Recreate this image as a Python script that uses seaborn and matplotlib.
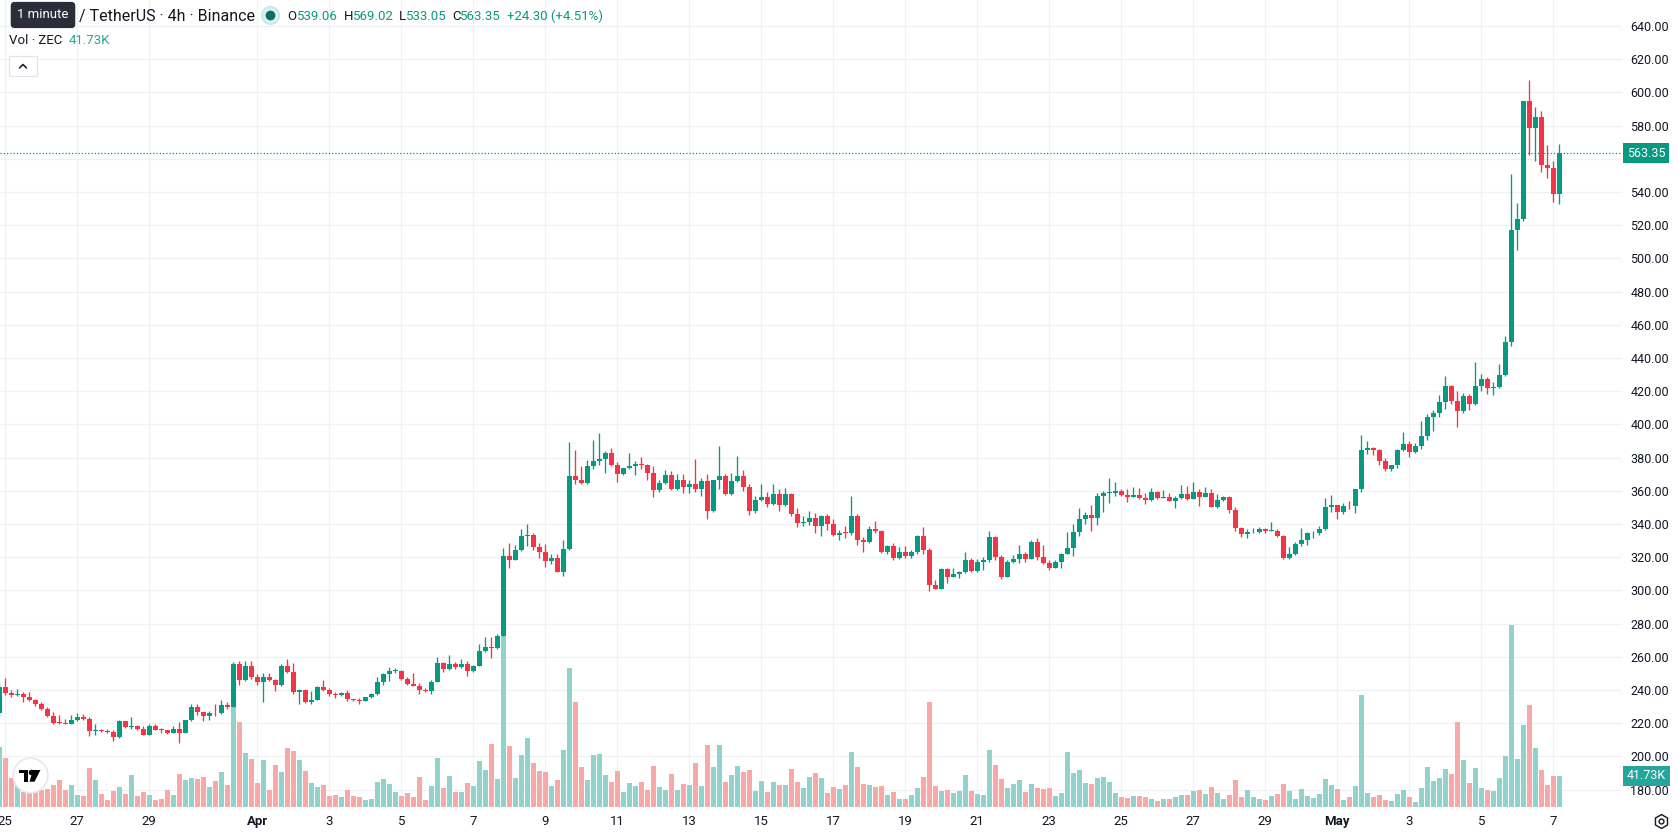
import numpy as np
import pandas as pd
import seaborn as sns
import matplotlib.pyplot as plt
import matplotlib.transforms as mtransforms
from matplotlib.lines import Line2D
from matplotlib.patches import Rectangle, Polygon

sns.set_theme(style='white')
plt.rcParams['font.family'] = ['Roboto', 'DejaVu Sans']

W, H = 1678, 835

# ZEC/USDT 4h candles, bar index 0 = Mar 25 00:00
bar_idx = list(range(-1, 260))
close = [242.0,
         238.0, 236.8, 237.8, 235.6, 234.0, 231.3, 228.5, 224.4, 220.2, 220.0,
         219.6, 222.2, 223.8, 222.4, 215.4, 216.0, 215.2, 215.0, 211.7, 221.2,
         217.6, 218.6, 216.6, 213.1, 218.2, 216.2, 216.0, 214.2, 216.6, 214.2,
         221.8, 229.9, 226.5, 224.2, 226.2, 225.9, 230.7, 229.9, 255.6, 245.9,
         254.7, 247.9, 244.6, 248.1, 245.9, 242.8, 254.7, 251.1, 238.6, 240.2,
         232.5, 234.1, 242.0, 240.2, 237.4, 237.2, 238.4, 234.4, 233.8, 233.4,
         235.6, 237.4, 245.1, 249.5, 251.3, 251.5, 246.7, 243.8, 242.6, 240.2,
         239.4, 245.1, 256.0, 252.7, 255.4, 253.7, 255.4, 251.3, 254.7, 263.2,
         265.7, 265.5, 272.7, 320.8, 318.6, 324.2, 332.9, 333.5, 325.9, 323.4,
         318.0, 319.4, 311.3, 325.1, 368.7, 366.5, 364.6, 374.7, 377.8, 379.0,
         382.8, 375.4, 370.1, 373.5, 374.7, 376.0, 375.8, 370.7, 360.6, 364.4,
         369.3, 360.8, 366.7, 362.2, 363.8, 361.0, 365.9, 347.7, 366.3, 368.7,
         357.8, 365.7, 368.7, 362.2, 347.7, 354.7, 356.2, 351.9, 357.8, 351.5,
         358.2, 345.9, 340.6, 341.4, 343.6, 338.6, 345.1, 339.8, 333.1, 334.7,
         334.5, 345.1, 330.1, 328.9, 337.2, 335.6, 323.4, 326.5, 319.4, 323.0,
         320.8, 323.2, 332.9, 324.6, 303.2, 301.0, 313.1, 308.3, 310.1, 311.1,
         318.4, 311.7, 317.2, 318.6, 332.3, 320.4, 308.3, 317.2, 319.2, 322.0,
         319.2, 329.3, 320.4, 316.4, 313.7, 317.2, 322.0, 325.5, 335.0, 342.8,
         345.3, 343.6, 356.8, 358.6, 358.8, 359.8, 357.4, 356.4, 357.4, 355.6,
         354.5, 359.2, 355.6, 356.0, 354.0, 355.6, 358.0, 355.0, 359.2, 356.4,
         358.6, 350.3, 354.3, 356.4, 348.5, 337.6, 334.0, 335.0, 335.2, 336.8,
         335.8, 336.0, 332.7, 319.4, 322.2, 327.7, 330.1, 334.3, 334.5, 337.2,
         350.1, 351.3, 347.3, 350.8, 350.6, 360.8, 384.5, 385.9, 384.5, 377.7,
         373.3, 375.4, 384.5, 388.3, 383.6, 386.8, 393.0, 404.4, 406.7, 413.5,
         423.1, 414.3, 407.9, 417.3, 412.0, 423.1, 427.5, 422.0, 422.5, 429.9,
         449.5, 517.4, 523.6, 594.7, 578.3, 585.1, 556.4, 554.6, 539.06, 563.35]
high = [245.0,
        247.5, 240.0, 240.6, 239.0, 238.8, 234.5, 232.5, 229.9, 226.5, 224.8,
        222.4, 225.0, 226.3, 225.5, 223.5, 219.6, 216.4, 216.4, 216.0, 222.0,
        221.6, 224.0, 219.0, 218.6, 219.6, 219.4, 217.4, 216.2, 218.2, 220.8,
        222.2, 231.3, 231.7, 226.8, 227.5, 231.7, 234.0, 232.7, 256.8, 257.6,
        257.6, 257.2, 249.5, 250.3, 250.5, 246.5, 255.6, 258.4, 256.0, 240.6,
        240.4, 239.6, 242.4, 246.3, 241.0, 238.8, 239.0, 240.0, 234.8, 235.4,
        236.0, 238.4, 248.1, 250.5, 254.1, 253.3, 252.0, 248.1, 250.1, 244.0,
        241.5, 246.0, 259.6, 256.6, 260.8, 256.6, 258.4, 257.6, 255.2, 267.5,
        272.1, 272.1, 273.9, 325.5, 328.7, 327.5, 337.0, 340.2, 334.5, 328.3,
        327.9, 322.0, 321.8, 330.3, 389.3, 384.8, 374.7, 378.4, 390.5, 394.7,
        383.8, 385.7, 377.6, 374.0, 382.8, 377.8, 380.4, 376.2, 374.7, 366.3,
        372.3, 371.7, 370.3, 369.9, 366.3, 379.4, 367.9, 369.9, 366.7, 386.9,
        369.9, 370.5, 380.8, 372.3, 363.8, 356.6, 363.8, 359.0, 363.8, 361.2,
        361.6, 358.8, 349.7, 344.6, 348.1, 346.7, 345.5, 346.1, 343.0, 336.2,
        338.8, 356.6, 346.1, 332.3, 338.8, 342.0, 336.4, 327.1, 328.3, 326.3,
        326.7, 324.6, 333.3, 338.4, 325.5, 306.1, 313.7, 313.7, 313.7, 311.7,
        323.2, 319.8, 319.0, 320.2, 336.0, 332.7, 321.2, 318.2, 321.4, 327.5,
        323.0, 330.3, 331.5, 327.5, 318.6, 318.2, 322.4, 335.4, 339.8, 349.5,
        347.3, 351.3, 358.8, 359.6, 367.5, 365.3, 361.0, 361.2, 362.2, 361.6,
        358.6, 361.6, 360.0, 360.2, 358.6, 357.0, 363.2, 362.8, 365.3, 360.8,
        362.0, 361.2, 358.0, 357.0, 356.6, 350.1, 338.0, 336.8, 337.4, 338.0,
        337.6, 341.0, 337.0, 333.1, 325.9, 328.9, 337.4, 335.4, 336.0, 339.0,
        355.6, 357.4, 351.5, 352.9, 353.7, 361.0, 393.9, 390.0, 386.2, 385.0,
        380.0, 375.8, 385.0, 395.6, 390.3, 388.5, 402.0, 406.4, 408.8, 417.6,
        429.3, 423.5, 420.0, 419.0, 418.2, 437.8, 430.4, 428.4, 425.4, 436.6,
        453.0, 550.8, 533.2, 594.9, 607.6, 591.2, 588.6, 568.1, 558.7, 569.02]
low = [224.0,
       237.0, 236.0, 236.5, 232.5, 233.3, 230.5, 227.9, 223.6, 219.8, 219.8,
       219.4, 219.4, 221.4, 222.0, 212.5, 213.1, 214.8, 214.0, 209.5, 211.3,
       217.0, 216.8, 216.2, 212.6, 212.7, 215.8, 213.9, 213.3, 214.0, 208.3,
       214.0, 221.5, 224.8, 221.6, 222.2, 224.4, 225.6, 228.5, 229.5, 243.0,
       245.5, 246.9, 243.0, 232.9, 245.4, 239.4, 242.4, 250.2, 237.6, 231.5,
       232.0, 231.5, 233.8, 239.4, 236.4, 235.0, 236.6, 233.6, 233.6, 231.6,
       233.2, 235.4, 236.8, 243.0, 245.5, 250.5, 246.1, 243.2, 242.2, 237.6,
       238.6, 237.6, 244.6, 250.7, 252.2, 252.9, 253.5, 248.7, 251.0, 254.3,
       262.8, 259.2, 265.0, 272.3, 313.3, 318.2, 323.6, 326.5, 324.3, 319.4,
       314.3, 316.2, 310.8, 308.9, 324.6, 364.2, 364.0, 364.2, 373.2, 375.5,
       370.7, 374.8, 365.3, 369.6, 373.0, 369.5, 373.0, 366.3, 356.2, 359.2,
       363.8, 360.4, 360.4, 358.6, 358.6, 359.2, 356.8, 343.2, 347.3, 360.8,
       357.2, 357.2, 365.3, 359.8, 345.7, 346.5, 354.0, 350.0, 351.3, 348.0,
       350.7, 344.7, 338.0, 338.6, 339.6, 334.3, 332.9, 336.5, 332.7, 330.1,
       331.3, 333.1, 327.1, 323.4, 328.3, 334.5, 322.8, 321.8, 318.6, 319.2,
       319.8, 319.8, 322.0, 322.2, 299.8, 300.6, 300.6, 304.6, 307.8, 307.4,
       310.3, 311.2, 311.2, 312.5, 317.4, 318.2, 306.9, 308.0, 316.8, 316.8,
       317.2, 318.8, 318.6, 316.0, 312.1, 313.3, 313.7, 321.8, 320.8, 333.0,
       340.0, 335.8, 339.6, 347.5, 352.9, 357.0, 356.8, 353.3, 356.0, 355.0,
       352.1, 354.0, 355.0, 355.6, 353.6, 349.7, 355.0, 354.6, 354.8, 350.9,
       356.0, 350.0, 349.9, 354.0, 346.7, 335.8, 332.1, 331.5, 334.6, 334.4,
       334.5, 335.6, 332.3, 318.8, 318.8, 321.6, 327.0, 327.3, 331.5, 333.5,
       336.2, 347.3, 343.0, 346.1, 348.8, 346.9, 359.2, 382.1, 381.3, 375.7,
       372.1, 371.8, 373.8, 384.0, 380.1, 383.0, 385.2, 390.4, 395.9, 404.7,
       409.4, 412.0, 398.2, 407.0, 408.8, 411.4, 420.2, 418.4, 417.5, 422.0,
       429.0, 447.4, 505.1, 522.6, 562.5, 558.7, 552.0, 548.5, 533.8, 533.05]
# volume in thousands of ZEC
volume = [80.4,
          66.0, 38.6, 31.0, 20.0, 22.0, 24.0, 22.5, 23.8, 29.2, 35.9,
          22.5, 29.2, 15.7, 14.4, 52.1, 35.9, 17.1, 9.0, 21.1, 26.5,
          17.1, 42.7, 14.4, 19.8, 15.7, 9.0, 10.3, 22.5, 15.7, 44.0,
          35.9, 38.6, 37.3, 40.0, 26.5, 34.6, 46.7, 29.2, 135.6, 114.0,
          72.3, 64.2, 31.9, 62.9, 22.5, 56.1, 46.7, 79.0, 75.0, 62.9,
          48.0, 31.9, 26.5, 29.2, 14.4, 15.7, 13.0, 22.5, 14.4, 13.0,
          9.0, 10.3, 33.2, 37.3, 30.5, 19.8, 14.4, 18.4, 13.0, 40.0,
          9.0, 27.8, 65.6, 25.1, 41.3, 19.8, 19.8, 31.9, 27.8, 61.5,
          49.4, 84.4, 37.3, 231.2, 81.7, 38.6, 69.6, 92.5, 58.8, 48.0,
          46.7, 27.8, 35.9, 76.3, 186.8, 141.0, 53.4, 35.9, 69.6, 70.9,
          42.7, 33.2, 48.0, 19.8, 31.9, 27.8, 33.2, 22.5, 54.8, 26.5,
          22.5, 44.0, 22.5, 30.5, 29.2, 58.8, 27.8, 83.1, 53.4, 83.1,
          33.2, 42.7, 54.8, 46.7, 49.4, 21.1, 34.6, 19.8, 33.2, 29.2,
          29.2, 50.7, 33.2, 25.1, 40.0, 45.3, 38.6, 18.4, 26.5, 23.8,
          29.2, 73.6, 53.4, 30.5, 29.2, 26.5, 27.8, 15.7, 19.8, 10.3,
          10.3, 15.7, 25.1, 40.0, 141.0, 27.8, 21.1, 22.5, 18.4, 21.1,
          42.7, 21.1, 17.1, 15.7, 76.3, 56.1, 37.3, 25.1, 30.5, 35.9,
          19.8, 30.5, 25.1, 23.8, 25.1, 14.4, 18.4, 73.6, 45.3, 49.4,
          31.9, 30.5, 38.6, 40.0, 33.2, 18.4, 13.0, 11.7, 14.4, 14.4,
          13.0, 10.3, 7.6, 10.3, 10.3, 13.0, 15.7, 15.7, 21.1, 22.5,
          17.1, 26.5, 18.4, 10.3, 15.7, 35.9, 13.0, 22.5, 13.0, 10.3,
          9.0, 14.4, 17.1, 30.5, 21.1, 10.3, 23.8, 14.4, 11.7, 17.1,
          37.3, 29.2, 23.8, 9.8, 13.1, 28.7, 150.2, 18.3, 13.1, 15.7,
          9.8, 8.5, 17.0, 23.5, 13.1, 7.2, 26.1, 54.2, 34.6, 38.5,
          51.6, 43.8, 114.9, 62.7, 32.7, 52.9, 26.1, 23.5, 22.2, 38.5,
          69.2, 245.5, 64.0, 111.0, 137.8, 79.0, 50.3, 30.0, 41.1, 41.73]
first_open = 226.0

price_ticks = list(range(180, 641, 20))
date_ticks = [0, 12, 24, 42, 54, 66, 78, 90, 102, 114, 126, 138, 150, 162, 174,
              186, 198, 210, 222, 234, 246, 258]
date_labels = ['25', '27', '29', 'Apr', '3', '5', '7', '9', '11', '13', '15', '17',
               '19', '21', '23', '25', '27', '29', 'May', '3', '5', '7']

UP, DN = '#089981', '#f23645'
VOL_UP, VOL_DN = '#92d2cc', '#f7a9a7'
GRID = '#eff1f4'
TXT = '#131722'

df = pd.DataFrame({'k': bar_idx, 'close': close, 'high': high, 'low': low, 'vol': volume})
df['open'] = [first_open] + close[:-1]
df['dir'] = np.where(df['close'] >= df['open'], 'up', 'down')
colors = np.where(df['dir'] == 'up', UP, DN)

fig = plt.figure(figsize=(W / 100, H / 100), dpi=100)
rect = [0, (H - 807) / H, 1622 / W, 807 / H]
axv = fig.add_axes(rect)
axp = fig.add_axes(rect, sharex=axv)
axv.set_zorder(1)
axp.set_zorder(2)
axp.patch.set_visible(False)
axv.set_facecolor('white')

# volume bars
sns.barplot(data=df, x='k', y='vol', hue='dir', palette={'up': VOL_UP, 'down': VOL_DN},
            native_scale=True, width=0.78, dodge=False, errorbar=None, saturation=1,
            legend=False, linewidth=0, ax=axv)
axv.set_ylim(0, 807 * 1.346)

# grid under the volume
grid_tf = mtransforms.blended_transform_factory(axv.transAxes, axp.transData)
for p in price_ticks:
    axv.plot([0, 1], [p, p], transform=grid_tf, color=GRID, lw=0.9, zorder=0)
for t in date_ticks:
    axv.axvline(t, color=GRID, lw=0.9, zorder=0)

# candles
body_lo = np.minimum(df['open'], df['close'])
body_hi = np.maximum(df['open'], df['close'])
axp.vlines(df['k'], np.minimum(df['low'], body_lo), np.maximum(df['high'], body_hi),
           colors=colors, lw=0.95, zorder=3)
axp.bar(df['k'], np.maximum(body_hi - body_lo, 0.45), bottom=body_lo, width=0.78,
        color=colors, linewidth=0, zorder=4)

last = close[-1]
axp.axhline(last, color=UP, lw=0.9, ls=(0, (1, 1.6)), zorder=2)

axp.set_xlim(-0.883, 269.45)
axp.set_ylim(169.52, 655.66)
axp.yaxis.tick_right()
axp.set_yticks(price_ticks)
# the 560 label sits under the last-price badge
axp.set_yticklabels(['' if abs(p - last) < 8 else f'{p:.2f}' for p in price_ticks])
axp.tick_params(axis='y', length=0, pad=6, labelsize=9, labelcolor=TXT)
axp.set_xticks(date_ticks)
axp.set_xticklabels(date_labels)
axp.tick_params(axis='x', length=0, pad=6, labelsize=9.5, labelcolor=TXT)
for lab in axp.get_xticklabels():
    if lab.get_text() in ('Apr', 'May'):
        lab.set_fontweight('bold')
axv.set_yticks([])
axv.tick_params(axis='x', bottom=False, labelbottom=False)
axv.set_xlabel('')
axv.set_ylabel('')
for a in (axv, axp):
    for s in a.spines.values():
        s.set_visible(False)

# price scale labels
lbl_tf = mtransforms.blended_transform_factory(fig.transFigure, axp.transData)
axp.text(1627 / W, last, f'{last:.2f}', transform=lbl_tf, ha='left', va='center',
         color='white', fontsize=9, clip_on=False, zorder=10,
         bbox=dict(boxstyle='square,pad=0.3', fc=UP, ec='none'))
vol_tf = mtransforms.blended_transform_factory(fig.transFigure, axv.transData)
axp.text(1627 / W, volume[-1], f'{volume[-1]:.2f}K', transform=vol_tf, ha='left',
         va='center', color='white', fontsize=9, clip_on=False, zorder=10,
         bbox=dict(boxstyle='square,pad=0.3', fc='#26a69a', ec='none'))


def fx(x):
    return x / W


def fy(y):
    return 1 - y / H


# header
fig.text(fx(79), fy(16), '/ TetherUS · 4h · Binance', fontsize=11.5, color=TXT,
         va='center', ha='left', zorder=6)
fig.text(fx(43), fy(15), '1 minute', fontsize=9.5, color='white', va='center',
         ha='center', zorder=7,
         bbox=dict(boxstyle='round,pad=0.5,rounding_size=0.3', fc='#2a2e39', ec='none'))
fig.add_artist(Line2D([fx(270)], [fy(15)], marker='o', markersize=13, color=UP,
                      alpha=0.15, lw=0, zorder=6))
fig.add_artist(Line2D([fx(270)], [fy(15)], marker='o', markersize=6, color='#0b6e5e',
                      lw=0, zorder=7))
ohlc_parts = [(287, 'O', TXT), (297, '539.06', UP), (344, 'H', TXT), (353, '569.02', UP),
              (399, 'L', TXT), (406, '533.05', UP), (452, 'C', TXT), (460, '563.35', UP),
              (507, '+24.30 (+4.51%)', UP)]
for xp, s, c in ohlc_parts:
    fig.text(fx(xp), fy(16), s, fontsize=9.5, color=c, va='center', ha='left', zorder=6)
fig.text(fx(9), fy(41), 'Vol · ZEC', fontsize=9.5, color=TXT, va='center', ha='left', zorder=6)
fig.text(fx(69), fy(41), '41.73K', fontsize=9.5, color='#22ab94', va='center', ha='left',
         zorder=6)
fig.add_artist(Rectangle((fx(9), fy(76)), 28 / W, 20 / H, transform=fig.transFigure,
                         fc='white', ec='#e0e3eb', lw=0.9, zorder=6))
fig.add_artist(Line2D([fx(19.5), fx(23), fx(26.5)], [fy(68), fy(64.5), fy(68)],
                      color=TXT, lw=1.1, zorder=7))

# TradingView logo badge
fig.add_artist(Line2D([fx(29.5)], [fy(775)], marker='o', markersize=25, mfc='white',
                      mec='#e6e8ec', mew=1.2, lw=0, zorder=6))
logo_t = [(19, 770), (28, 770), (28, 781.7), (24, 781.7), (24, 773.4), (19, 773.4)]
logo_v = [(33, 770), (40.5, 770), (34.5, 781.7), (29.5, 781.7)]
for shape in (logo_t, logo_v):
    fig.add_artist(Polygon([(fx(a), fy(b)) for a, b in shape], closed=True,
                           transform=fig.transFigure, fc='black', ec='none', zorder=7))
fig.add_artist(Line2D([fx(30.8)], [fy(772.2)], marker='o', markersize=3, color='black',
                      lw=0, zorder=7))

# settings icon
fig.add_artist(Line2D([fx(1661)], [fy(821)], marker='h', markersize=10, mfc='none',
                      mec=TXT, mew=1.0, lw=0, zorder=6))
fig.add_artist(Line2D([fx(1661)], [fy(821)], marker='o', markersize=3.5, mfc='none',
                      mec=TXT, mew=1.0, lw=0, zorder=6))

fig.savefig('out.png', dpi=100, facecolor='white')
